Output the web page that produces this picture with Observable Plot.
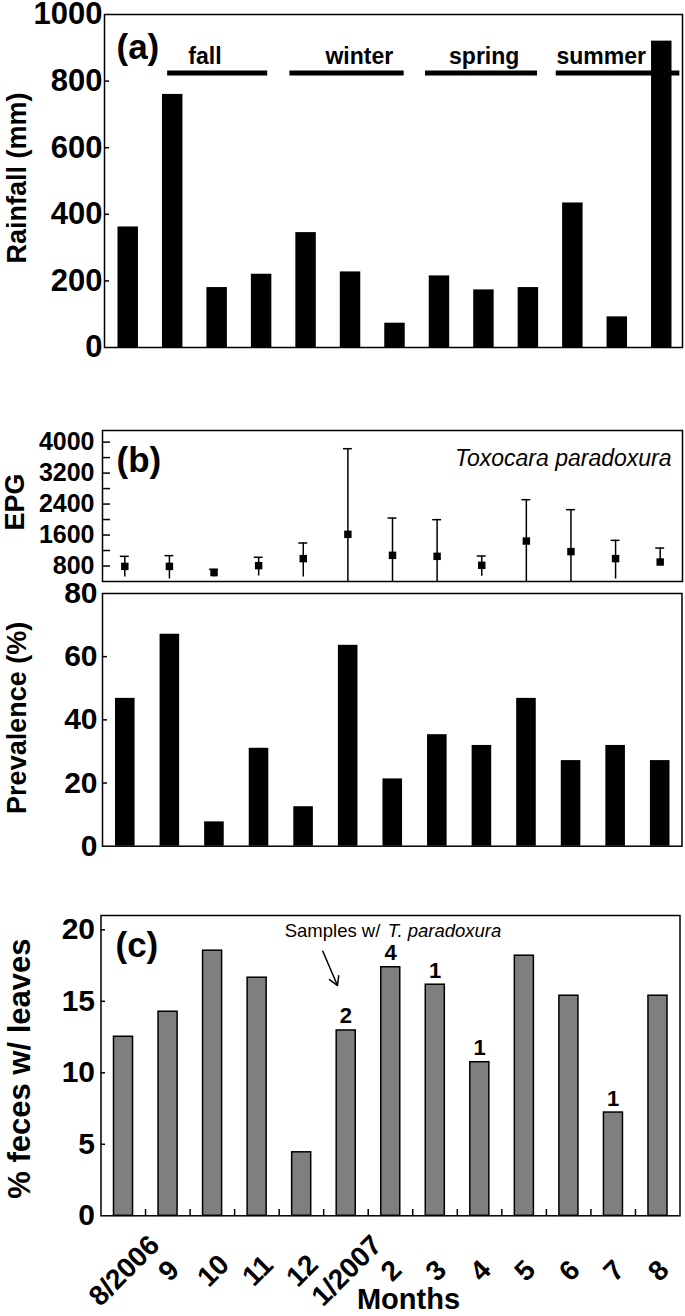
<!DOCTYPE html>
<html><head><meta charset="utf-8">
<script src="https://cdn.jsdelivr.net/npm/d3@7"></script>
<script src="https://cdn.jsdelivr.net/npm/@observablehq/plot@0.6"></script>
<style>
body{margin:0;background:#fff;color:#000;font-family:"Liberation Sans",Arial,sans-serif;}
#wrap{position:relative;width:685px;height:1316px;overflow:hidden;}
#wrap > div{position:absolute;left:0;}
svg{overflow:visible}
</style></head><body>
<div id="wrap"><div id="pa" style="top:0px"></div><div id="pb1" style="top:400px"></div><div id="pb2" style="top:585px"></div><div id="pc" style="top:880px"></div></div>
<script>
// ---- data ----
const months = ["8/2006","9","10","11","12","1/2007","2","3","4","5","6","7","8"];
const rainfall = [362, 760, 180, 220, 345, 227, 73, 215, 173, 180, 434, 92, 920];
const rainTicks = [0, 200, 400, 600, 800, 1000];
const seasons = ["fall", "winter", "spring", "summer"];
const seasonStart = [1.42, 4.17, 7.22, 10.16];   // in month-index units
const seasonEnd = [3.67, 6.74, 9.74, 12.94];
const seasonMid = [2.26, 5.73, 8.54, 11.17];
const seasonLineLevel = 824;
const seasonTextLevel = 872;

const epgMean = [790, 790, 630, 810, 991, 1618, 1076, 1050, 818, 1445, 1172, 991, 903];
const epgUpper = [1050, 1068, 715, 1025, 1394, 3830, 2039, 1997, 1058, 2513, 2255, 1463, 1264];
const epgLower = [516, 465, 516, 542, 516, 0, 0, 0, 534, 0, 0, 465, 903];
const epgTicks = [800, 1600, 2400, 3200, 4000];
const epgMinor = [800, 1200, 1600, 2000, 2400, 2800, 3200, 3600, 4000];

const prevalence = [46.8, 67.1, 7.7, 31.0, 12.5, 63.6, 21.3, 35.3, 31.9, 46.8, 27.1, 31.9, 27.1];
const prevTicks = [0, 20, 40, 60, 80];

const leaves = [12.52, 14.27, 18.54, 16.65, 4.44, 12.96, 17.38, 16.16, 10.74, 18.19, 15.39, 7.22, 15.39];
const positives = [null, null, null, null, null, 2, 4, 1, 1, null, null, 1, null];
const leafTicks = [0, 5, 10, 15, 20];
const noteLevel = 19.8, noteX = 6.35;
const arrowPath = [{x: 4.98, y: 18.5}, {x: 5.31, y: 16.1}];

// ---- helpers ----
const idx = d3.range(months.length);
const W = 685;
const font = "Liberation Sans, Arial, sans-serif";
const style = {fontFamily: font, overflow: "visible", background: "transparent", color: "black"};
const plain = d => String(d);

// ---- panel (a) rainfall ----
const pa = Plot.plot({
  width: W, height: 360, marginLeft: 104, marginRight: 3, marginTop: 14, marginBottom: 13,
  style,
  x: {domain: [0, 13], axis: null},
  y: {domain: [0, 1000]},
  marks: [
    Plot.rectY(idx, {x1: i => i, x2: i => i + 1, y1: 0, y2: i => rainfall[i], insetLeft: 13.5, insetRight: 10.5, fill: "black"}),
    Plot.ruleY(d3.range(seasons.length), {x1: i => seasonStart[i], x2: i => seasonEnd[i], y: seasonLineLevel, strokeWidth: 5}),
    Plot.text(d3.range(seasons.length), {x: i => seasonMid[i], y: seasonTextLevel, text: i => seasons[i], fontSize: 23, fontWeight: "bold"}),
    Plot.axisY({ticks: rainTicks, tickFormat: plain, tickSize: 0, tickPadding: 2, fontSize: 31, fontWeight: "bold", label: null}),
    Plot.ruleY(rainTicks.slice(1, -1), {y: d => d, insetRight: 573, strokeWidth: 1.5}),
    Plot.frame({strokeWidth: 1.5}),
    Plot.text(["(a)"], {text: d => d, frameAnchor: "top-left", textAnchor: "start", lineAnchor: "middle", dx: 12, dy: 33, fontSize: 35, fontWeight: "bold"}),
    Plot.text(["Rainfall (mm)"], {text: d => d, frameAnchor: "left", textAnchor: "middle", lineAnchor: "middle", rotate: -90, dx: -87, dy: -3, fontSize: 27, fontWeight: "bold"})
  ]
});
document.getElementById("pa").append(pa);

// ---- panel (b) EPG ----
const pb1 = Plot.plot({
  width: W, height: 185, marginLeft: 102, marginRight: 3, marginTop: 30, marginBottom: 4,
  style,
  x: {domain: [0, 13], axis: null},
  y: {domain: [400, 4300]},
  marks: [
    Plot.ruleX(idx, {x: i => i + 0.5, y1: i => epgLower[i], y2: i => epgUpper[i], strokeWidth: 1.5, clip: true}),
    Plot.ruleY(idx, {y: i => epgUpper[i], x1: i => i + 0.4, x2: i => i + 0.6, strokeWidth: 1.5}),
    Plot.dot(idx, {x: i => i + 0.5, y: i => epgMean[i], symbol: "square", r: 4.2, fill: "black"}),
    Plot.axisY({ticks: epgTicks, tickFormat: plain, tickSize: 0, tickPadding: 8, fontSize: 25, fontWeight: "bold", label: null}),
    Plot.ruleY(epgMinor, {y: d => d, insetRight: 572, strokeWidth: 1.5}),
    Plot.frame({strokeWidth: 1.5}),
    Plot.text(["(b)"], {text: d => d, frameAnchor: "top-left", textAnchor: "start", lineAnchor: "middle", dx: 14, dy: 30, fontSize: 35, fontWeight: "bold"}),
    Plot.text(["Toxocara paradoxura"], {text: d => d, frameAnchor: "top-right", textAnchor: "end", lineAnchor: "middle", dx: -11, dy: 28, fontSize: 23, fontStyle: "italic"}),
    Plot.text(["EPG"], {text: d => d, frameAnchor: "left", textAnchor: "middle", lineAnchor: "middle", rotate: -90, dx: -87, dy: -4, fontSize: 27, fontWeight: "bold"})
  ]
});
document.getElementById("pb1").append(pb1);

// ---- panel (b) prevalence ----
const pb2 = Plot.plot({
  width: W, height: 275, marginLeft: 102, marginRight: 3.5, marginTop: 8, marginBottom: 14.3,
  style,
  x: {domain: [0, 13], axis: null},
  y: {domain: [0, 80]},
  marks: [
    Plot.rectY(idx, {x1: i => i, x2: i => i + 1, y1: 0, y2: i => prevalence[i], insetLeft: 13, insetRight: 12, fill: "black"}),
    Plot.axisY({ticks: prevTicks, tickFormat: plain, tickSize: 0, tickPadding: 5, fontSize: 30, fontWeight: "bold", label: null}),
    Plot.ruleY(prevTicks.slice(1, -1), {y: d => d, insetRight: 574.5, strokeWidth: 1.5}),
    Plot.frame({strokeWidth: 1.5}),
    Plot.text(["Prevalence (%)"], {text: d => d, frameAnchor: "left", textAnchor: "middle", lineAnchor: "middle", rotate: -90, dx: -85, dy: -2, fontSize: 27, fontWeight: "bold"})
  ]
});
document.getElementById("pb2").append(pb2);

// ---- panel (c) feces with leaves ----
const pc = Plot.plot({
  width: W, height: 436, marginLeft: 100.5, marginRight: 5.5, marginTop: 35, marginBottom: 100.7,
  style,
  x: {domain: [0, 13], axis: null},
  y: {domain: [0, 21]},
  marks: [
    Plot.rectY(idx, {x1: i => i, x2: i => i + 1, y1: 0, y2: i => leaves[i], insetLeft: 13, insetRight: 12.5, fill: "#7f7f7f", stroke: "black", strokeWidth: 1.5}),
    Plot.text(idx.filter(i => positives[i] != null), {x: i => i + 0.5, y: i => leaves[i], text: i => String(positives[i]), lineAnchor: "bottom", dy: -7, fontSize: 22, fontWeight: "bold"}),
    Plot.text(["Samples w/"], {text: d => d, x: noteX, y: noteLevel, textAnchor: "end", dx: -3.5, dy: -2, fontSize: 18.5}),
    Plot.text(["T. paradoxura"], {text: d => d, x: noteX, y: noteLevel, textAnchor: "start", dx: 4, dy: -2, fontSize: 18.5, fontStyle: "italic"}),
    Plot.arrow([arrowPath], {x1: d => d[0].x, y1: d => d[0].y, x2: d => d[1].x, y2: d => d[1].y, strokeWidth: 1.5, headLength: 10}),
    Plot.axisY({ticks: leafTicks, tickFormat: plain, tickSize: 0, tickPadding: 6, fontSize: 30, fontWeight: "bold", label: null}),
    Plot.ruleY(leafTicks.slice(1), {y: d => d, insetRight: 574.5, strokeWidth: 1.5}),
    Plot.ruleX(d3.range(1, 13), {x: d => d, insetTop: 294, strokeWidth: 1.5}),
    Plot.frame({strokeWidth: 1.5}),
    Plot.text(idx, {x: i => i + 0.5, text: i => months[i], frameAnchor: "bottom", rotate: -45, textAnchor: "middle", lineAnchor: "middle", dx: 1, dy: 55, fontSize: 28, fontWeight: "bold"}),
    Plot.text(["Months"], {text: d => d, frameAnchor: "bottom", textAnchor: "middle", lineAnchor: "middle", dx: 18, dy: 84, fontSize: 29, fontWeight: "bold"}),
    Plot.text(["(c)"], {text: d => d, frameAnchor: "top-left", textAnchor: "start", lineAnchor: "middle", dx: 14.5, dy: 30.5, fontSize: 35, fontWeight: "bold"}),
    Plot.text(["% feces w/ leaves"], {text: d => d, frameAnchor: "left", textAnchor: "middle", lineAnchor: "middle", rotate: -90, dx: -80.5, dy: 3, fontSize: 31, fontWeight: "bold"})
  ]
});
document.getElementById("pc").append(pc);
</script>
</body></html>
